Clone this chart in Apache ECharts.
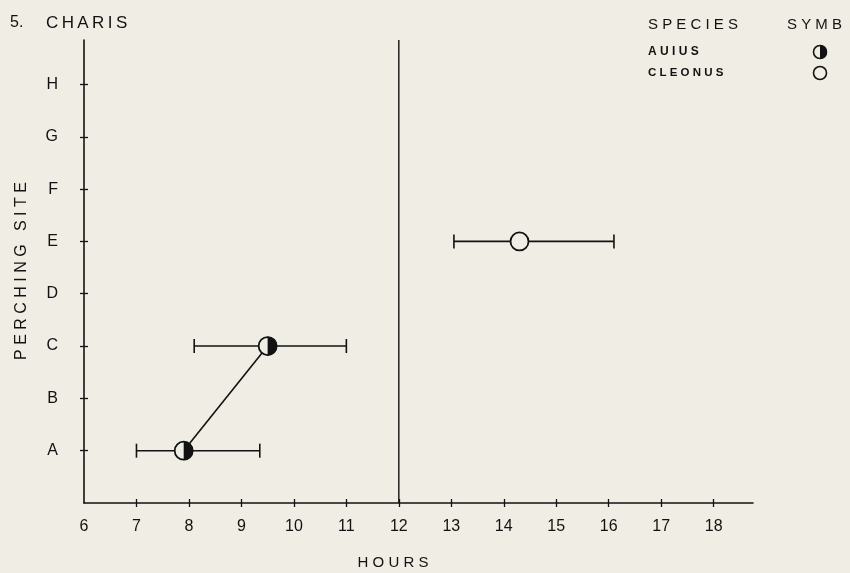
<!DOCTYPE html>
<html>
<head>
<meta charset="utf-8">
<script src="https://cdn.jsdelivr.net/npm/echarts@6/dist/echarts.min.js"></script>
<style>
  html, body { margin: 0; padding: 0; background: #efede4; }
  #chart { width: 850px; height: 573px; }
</style>
</head>
<body>
<div id="chart"></div>
<script>
  // perching sites, bottom to top (A sits at 1 on the value axis)
  const sites = ['A', 'B', 'C', 'D', 'E', 'F', 'G', 'H'];
  const hourLabels = [6, 7, 8, 9, 10, 11, 12, 13, 14, 15, 16, 17, 18];

  // auius: mean hour and range, by site
  const auiusSite = ['A', 'C'];
  const auiusMean = [7.9, 9.5];
  const auiusLow = [7.0, 8.1];
  const auiusHigh = [9.35, 11.0];

  // cleonus
  const cleonusSite = ['E'];
  const cleonusMean = [14.3];
  const cleonusLow = [13.05];
  const cleonusHigh = [16.1];

  const noonHour = 12;

  const ink = '#121212';
  const paper = '#efede4';
  const font = 'Liberation Sans, DejaVu Sans, sans-serif';
  const yTop = 8.85;

  const siteNum = s => sites.indexOf(s) + 1;
  const spaced = s => s.split('').join(' ');

  const auiusPts = auiusMean.map((m, i) => [m, siteNum(auiusSite[i])]);
  const auiusBars = auiusMean.map((m, i) => [m, siteNum(auiusSite[i]), auiusLow[i], auiusHigh[i]]);
  const cleonusPts = cleonusMean.map((m, i) => [m, siteNum(cleonusSite[i])]);
  const cleonusBars = cleonusMean.map((m, i) => [m, siteNum(cleonusSite[i]), cleonusLow[i], cleonusHigh[i]]);

  function errBar(params, api) {
    var a = api.coord([api.value(2), api.value(1)]);
    var b = api.coord([api.value(3), api.value(1)]);
    var h = 7;
    var st = { stroke: ink, lineWidth: 1.6 };
    return {
      type: 'group',
      children: [
        { type: 'line', shape: { x1: a[0], y1: a[1], x2: b[0], y2: b[1] }, style: st },
        { type: 'line', shape: { x1: a[0], y1: a[1] - h, x2: a[0], y2: a[1] + h }, style: st },
        { type: 'line', shape: { x1: b[0], y1: b[1] - h, x2: b[0], y2: b[1] + h }, style: st }
      ]
    };
  }

  function marker(half) {
    return function (params, api) {
      var c = api.coord([api.value(0), api.value(1)]);
      var r = 9;
      var kids = [{ type: 'circle', shape: { cx: c[0], cy: c[1], r: r },
        style: { fill: paper, stroke: ink, lineWidth: 1.8 } }];
      if (half) {
        kids.push({ type: 'sector', shape: { cx: c[0], cy: c[1], r0: 0, r: r + 0.5,
          startAngle: -Math.PI / 2, endAngle: Math.PI / 2, clockwise: true },
          style: { fill: ink } });
      }
      return { type: 'group', children: kids };
    };
  }

  function legendMark(cx, cy, half) {
    var out = [{ type: 'circle', shape: { cx: cx, cy: cy, r: 6.5 }, style: { fill: paper, stroke: ink, lineWidth: 1.6 } }];
    if (half) {
      out.push({ type: 'sector', shape: { cx: cx, cy: cy, r0: 0, r: 7, startAngle: -Math.PI / 2, endAngle: Math.PI / 2, clockwise: true }, style: { fill: ink } });
    }
    return out;
  }

  const chart = echarts.init(document.getElementById('chart'));
  const option = {
    backgroundColor: paper,
    animation: false,
    textStyle: { fontFamily: font, color: ink },
    grid: { left: 84, right: 97, top: 40, bottom: 70 },
    xAxis: [{
      type: 'value', min: 6, max: 18.75, interval: 1,
      axisLine: { lineStyle: { color: ink, width: 1.6 } },
      axisTick: { length: 4, lineStyle: { color: ink, width: 1.3 }, customValues: hourLabels.slice(1) },
      axisLabel: { color: ink, fontSize: 16, margin: 16, customValues: hourLabels, fontFamily: font },
      splitLine: { show: false }
    }, {
      type: 'value', min: 6, max: 18.75, position: 'bottom',
      axisLine: { show: false },
      axisTick: { inside: true, length: 4, lineStyle: { color: ink, width: 1.3 }, customValues: hourLabels.slice(1) },
      axisLabel: { show: false },
      splitLine: { show: false }
    }],
    yAxis: [{
      type: 'value', min: 0, max: yTop,
      axisLine: { show: true, lineStyle: { color: ink, width: 1.6 } },
      axisTick: { show: true, length: 4, lineStyle: { color: ink, width: 1.3 }, customValues: [1, 2, 3, 4, 5, 6, 7, 8] },
      axisLabel: { color: ink, fontSize: 16, margin: 26, customValues: [1, 2, 3, 4, 5, 6, 7, 8],
        fontFamily: font, formatter: v => sites[Math.round(v) - 1] || '' },
      splitLine: { show: false }
    }, {
      type: 'value', min: 0, max: yTop, position: 'left',
      axisLine: { show: false },
      axisTick: { show: true, inside: true, length: 4, lineStyle: { color: ink, width: 1.3 }, customValues: [1, 2, 3, 4, 5, 6, 7, 8] },
      axisLabel: { show: false },
      splitLine: { show: false }
    }],
    graphic: [
      { type: 'text', x: 10, y: 23, style: { text: '5.', fill: ink, font: '16px ' + font, textVerticalAlign: 'middle' } },
      { type: 'text', x: 46, y: 23, style: { text: 'C\u2009H\u2009A\u2009R\u2009I\u2009S', fill: ink, font: '17px ' + font, textVerticalAlign: 'middle' } },
      { type: 'text', x: 393, y: 563, style: { text: spaced('HOURS'), fill: ink, font: '15px ' + font, textAlign: 'center', textVerticalAlign: 'middle' } },
      { type: 'text', x: 22, y: 271, rotation: Math.PI / 2, style: { text: 'P E R C H I N G   S I T E', fill: ink, font: '16px ' + font, textAlign: 'center', textVerticalAlign: 'middle' } },
      { type: 'text', x: 648, y: 25, style: { text: spaced('SPECIES'), fill: ink, font: '15px ' + font, textVerticalAlign: 'middle' } },
      { type: 'text', x: 787, y: 25, style: { text: spaced('SYMB'), fill: ink, font: '15px ' + font, textVerticalAlign: 'middle' } },
      { type: 'text', x: 648, y: 52, style: { text: spaced('AUIUS'), fill: ink, font: 'bold 12px ' + font, textVerticalAlign: 'middle' } },
      { type: 'text', x: 648, y: 73, style: { text: spaced('CLEONUS'), fill: ink, font: 'bold 11.5px ' + font, textVerticalAlign: 'middle' } }
    ].concat(legendMark(820, 52, true), legendMark(820, 73, false)),
    series: [
      {
        type: 'line', data: [[noonHour, 0], [noonHour, yTop]], symbol: 'none',
        lineStyle: { color: ink, width: 1.4 }, silent: true
      },
      {
        type: 'line', data: auiusPts, symbol: 'none',
        lineStyle: { color: ink, width: 1.6 }
      },
      { type: 'custom', data: auiusBars, renderItem: errBar },
      { type: 'custom', data: cleonusBars, renderItem: errBar },
      { type: 'custom', data: auiusPts, renderItem: marker(true), z: 5 },
      { type: 'custom', data: cleonusPts, renderItem: marker(false), z: 5 }
    ]
  };
  chart.setOption(option);
</script>
</body>
</html>
